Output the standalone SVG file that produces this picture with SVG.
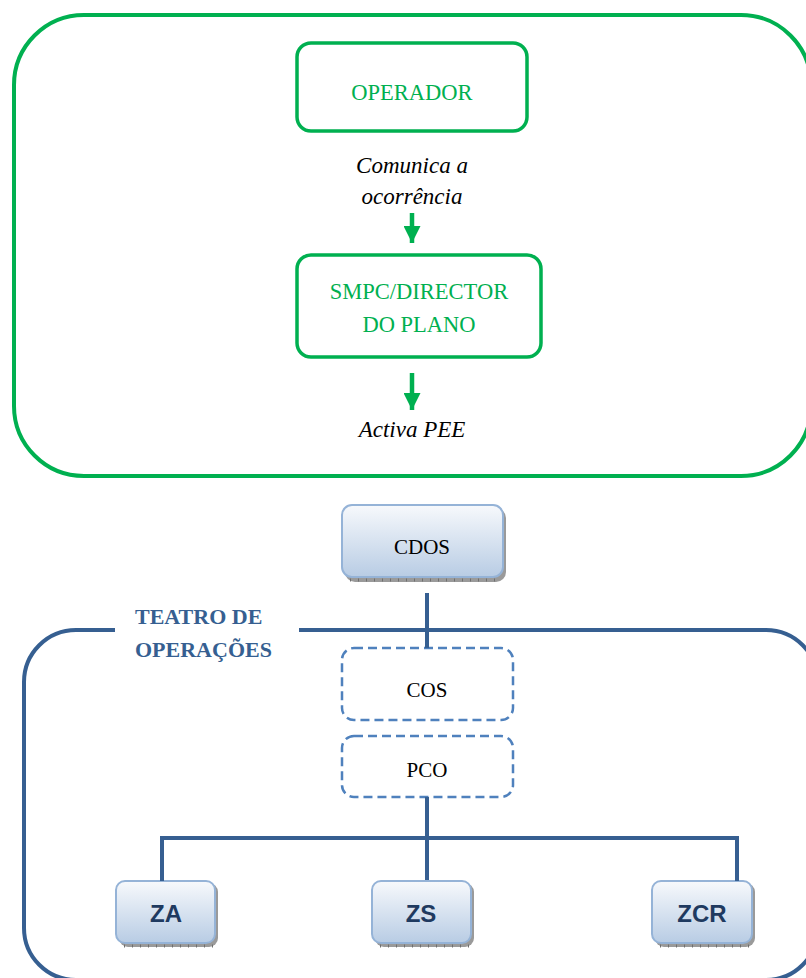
<svg xmlns="http://www.w3.org/2000/svg" width="806" height="978" viewBox="0 0 806 978">
<style>
.gbox{fill:#fff;stroke:#00B050;stroke-width:3.5}
.gtxt{font-family:"Liberation Serif",serif;font-size:22.5px;fill:#00B050;text-anchor:middle}
.itxt{font-family:"Liberation Serif",serif;font-style:italic;font-size:23px;fill:#000;text-anchor:middle}
.btxt{font-family:"Liberation Serif",serif;font-size:21px;fill:#000;text-anchor:middle}
.dash{fill:#fff;stroke:#4F81BD;stroke-width:2.5;stroke-dasharray:9 5}
.gbx{fill:url(#bg);stroke:#95B3D7;stroke-width:2}
.shd{fill:#9a9a9a}
.tick{stroke:#6f6f6f;stroke-width:3;stroke-dasharray:1 7}
.ztxt{font-family:"Liberation Sans",sans-serif;font-weight:bold;font-size:24px;fill:#1F3A60;text-anchor:middle}
.conn{stroke:#365F91;stroke-width:4;fill:none}
.garr{stroke:#00B050;stroke-width:4.5;fill:none}
.title{font-family:"Liberation Serif",serif;font-weight:bold;font-size:22px;fill:#365F91}
</style>
<defs>
<linearGradient id="bg" x1="0" y1="0" x2="0" y2="1">
<stop offset="0" stop-color="#F7F9FC"/>
<stop offset="1" stop-color="#B8CCE4"/>
</linearGradient>
<marker id="ga" markerUnits="userSpaceOnUse" markerWidth="17" markerHeight="17" viewBox="0 0 17 17" refX="17" refY="8.5" orient="auto">
<path d="M0,0 L17,8.5 L0,17 Z" fill="#00B050"/>
</marker>
</defs>

<g id="green-container">
<rect x="14" y="15" width="797" height="461" rx="70" ry="70" fill="none" stroke="#00B050" stroke-width="4"/>
</g>

<g id="teatro-container">
<path class="conn" d="M115,630 L76,630 A52,52 0 0 0 24,682 L24,928 A52,52 0 0 0 76,980 L766,980 A52,52 0 0 0 818,928 L818,682 A52,52 0 0 0 766,630 L299,630"/>
<text class="title" x="135" y="624">TEATRO DE</text>
<text class="title" x="135" y="657">OPERAÇÕES</text>
</g>

<g id="operador">
<rect class="gbox" x="297" y="43" width="230" height="88" rx="14"/>
<text class="gtxt" x="412" y="100">OPERADOR</text>
</g>

<g id="smpc">
<rect class="gbox" x="297" y="255" width="244" height="102" rx="14"/>
<text class="gtxt" x="419" y="299">SMPC/DIRECTOR</text>
<text class="gtxt" x="419" y="332">DO PLANO</text>
</g>

<g id="cdos">
<rect class="shd" x="345" y="508" width="161" height="74" rx="10"/>
<rect class="gbx" x="342" y="505" width="161" height="72" rx="10"/>
<line class="tick" x1="350" y1="580" x2="500" y2="580"/>
<text class="btxt" x="422" y="554">CDOS</text>
</g>

<g id="cos">
<rect class="dash" x="342" y="648" width="171" height="72" rx="12"/>
<text class="btxt" x="427" y="697">COS</text>
</g>

<g id="pco">
<rect class="dash" x="342" y="736" width="171" height="61" rx="12"/>
<text class="btxt" x="427" y="777">PCO</text>
</g>

<g id="za">
<rect class="shd" x="119" y="883" width="99" height="64" rx="9"/>
<rect class="gbx" x="116" y="881" width="99" height="62" rx="9"/>
<line class="tick" x1="124" y1="946" x2="214" y2="946"/>
<text class="ztxt" x="166" y="922">ZA</text>
</g>

<g id="zs">
<rect class="shd" x="375" y="883" width="99" height="64" rx="9"/>
<rect class="gbx" x="372" y="881" width="99" height="62" rx="9"/>
<line class="tick" x1="380" y1="946" x2="470" y2="946"/>
<text class="ztxt" x="421" y="922">ZS</text>
</g>

<g id="zcr">
<rect class="shd" x="655" y="883" width="100" height="64" rx="9"/>
<rect class="gbx" x="652" y="881" width="100" height="62" rx="9"/>
<line class="tick" x1="660" y1="946" x2="751" y2="946"/>
<text class="ztxt" x="702" y="922">ZCR</text>
</g>

<g id="connectors">
<line class="garr" x1="412" y1="213" x2="412" y2="243" marker-end="url(#ga)"/>
<text class="itxt" x="412" y="173">Comunica a</text>
<text class="itxt" x="412" y="204">ocorrência</text>
<line class="garr" x1="412" y1="373" x2="412" y2="410" marker-end="url(#ga)"/>
<text class="itxt" x="412" y="437">Activa PEE</text>
<line class="conn" x1="427" y1="593" x2="427" y2="648"/>
<line class="conn" x1="427" y1="797" x2="427" y2="880"/>
<path class="conn" d="M162,881 L162,838 L737,838 L737,881"/>
</g>
</svg>
